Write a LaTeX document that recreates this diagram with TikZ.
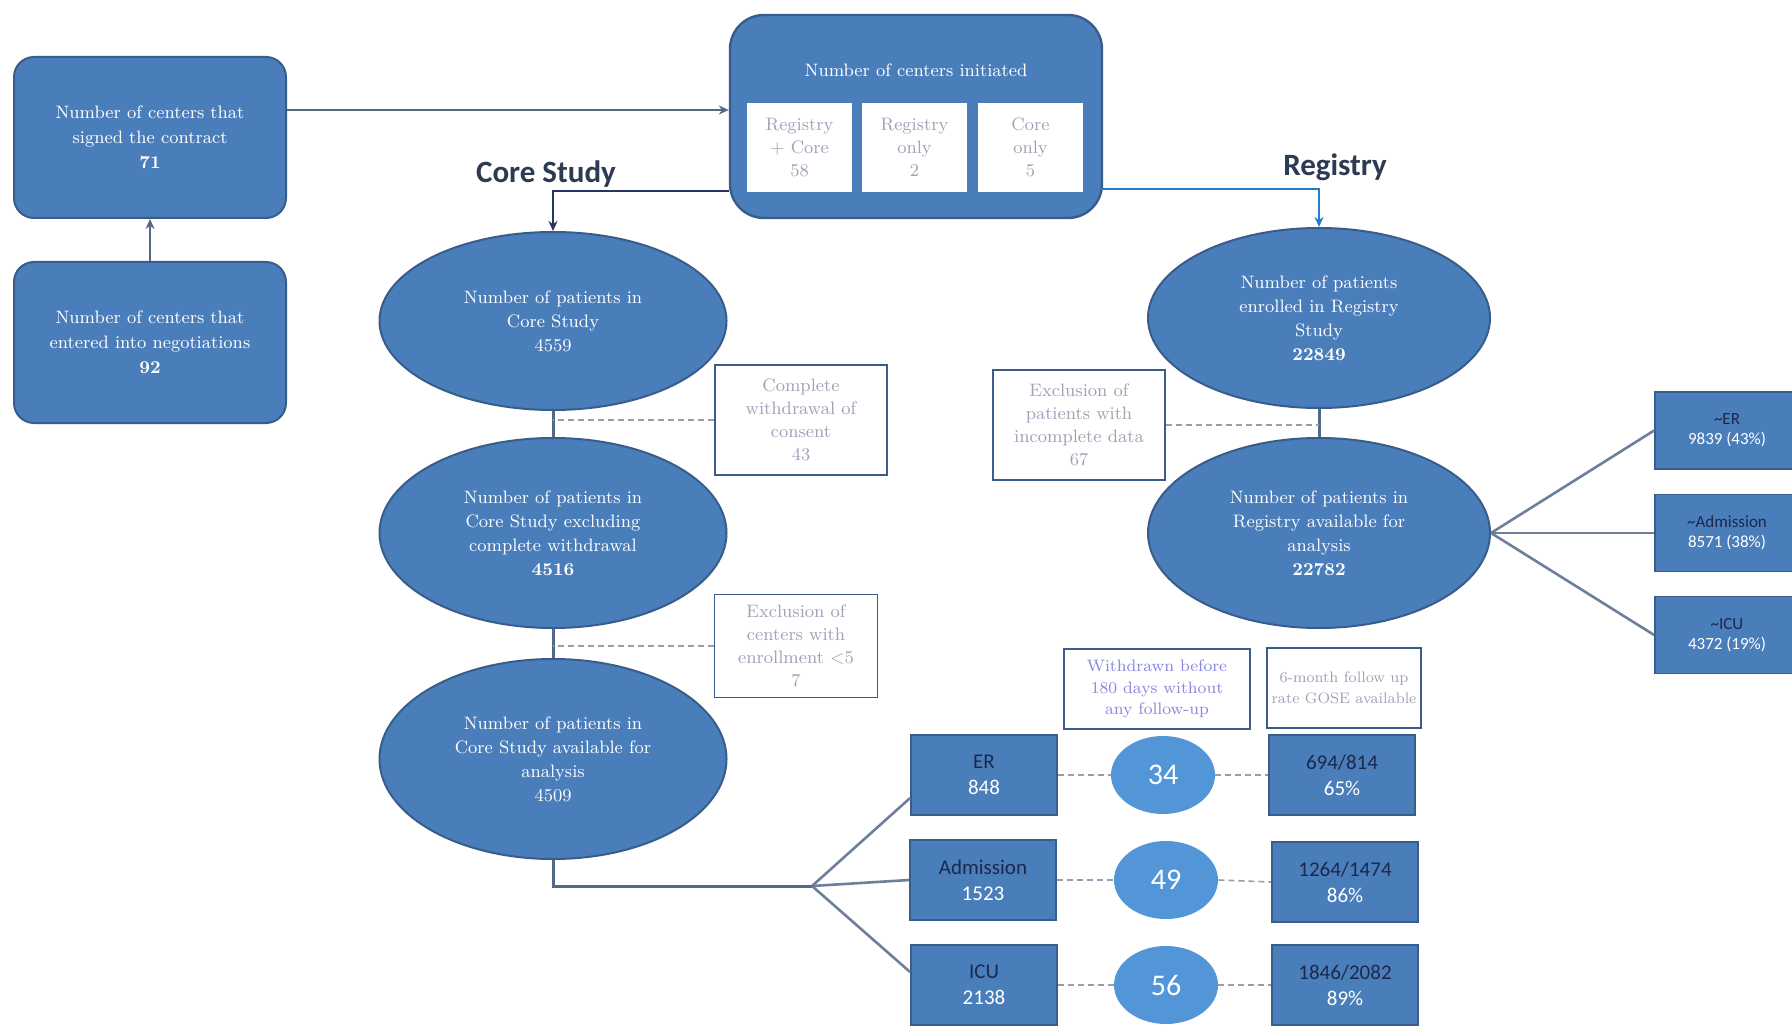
\documentclass[tikz,border=0pt]{standalone}
\usepackage{fontspec}
\newfontfamily\calfont{Carlito}
\usetikzlibrary{arrows.meta, shapes.geometric}

\definecolor{boxblue}{RGB}{74,126,187}
\definecolor{boxedge}{RGB}{56,93,138}
\definecolor{circblue}{RGB}{82,150,216}
\definecolor{linegray}{RGB}{84,104,136}
\definecolor{navytext}{RGB}{28,40,76}
\definecolor{greytext}{RGB}{158,162,182}
\definecolor{lavtext}{RGB}{136,136,222}
\definecolor{headtext}{RGB}{44,58,82}
\definecolor{regline}{RGB}{38,124,204}
\definecolor{dashgray}{RGB}{150,158,176}

\begin{document}
\begin{tikzpicture}[
  x=0.5pt, y=-0.5pt,
  >=Stealth,
  centerbox/.style = {draw=boxedge, line width=1pt, fill=boxblue,
                      rounded corners=10pt, text=white, align=center,
                      font=\fontsize{9}{12.5}\selectfont, inner sep=0pt,
                      minimum width=136pt, minimum height=80.5pt},
  initbox/.style   = {draw=boxedge, line width=1.2pt, fill=boxblue,
                      rounded corners=17pt, inner sep=0pt,
                      minimum width=186pt, minimum height=101.5pt},
  sitebox/.style   = {fill=white, text=greytext, align=center,
                      font=\fontsize{9}{11.5}\selectfont, inner sep=0pt,
                      minimum width=52.5pt, minimum height=44.5pt},
  patell/.style    = {ellipse, draw=boxedge, line width=1pt, fill=boxblue,
                      text=white, align=center, inner sep=0pt,
                      font=\fontsize{9}{12}\selectfont},
  exclbox/.style   = {draw=boxedge, line width=0.9pt, fill=white,
                      text=greytext, align=center, inner sep=0pt,
                      font=\fontsize{9}{11.5}\selectfont},
  grpbox/.style    = {draw=boxedge, line width=0.9pt, fill=boxblue,
                      align=center, inner sep=0pt,
                      font=\calfont\fontsize{10.5}{13}\selectfont,
                      minimum width=73pt, minimum height=40pt},
  regbox/.style    = {draw=boxedge, line width=0.9pt, fill=boxblue,
                      align=center, inner sep=0pt,
                      font=\calfont\fontsize{8.5}{10}\selectfont,
                      minimum width=72pt, minimum height=38.5pt},
  wdcirc/.style    = {ellipse, fill=circblue, text=white, inner sep=0pt,
                      font=\calfont\fontsize{15}{18}\selectfont,
                      minimum width=52pt, minimum height=39pt},
  headlbl/.style   = {text=headtext, inner sep=0pt,
                      font=\calfont\bfseries\fontsize{15.5}{18}\selectfont},
  arr/.style       = {-{Stealth[length=5pt,width=4.5pt]}, draw=linegray,
                      line width=1pt},
  corearr/.style   = {-{Stealth[length=5pt,width=4.5pt]}, draw=headtext!90!blue,
                      line width=1.4pt},
  regarr/.style    = {-{Stealth[length=5pt,width=4.5pt]}, draw=regline,
                      line width=1.4pt},
  conn/.style      = {draw=linegray, line width=1.5pt},
  fanline/.style   = {draw=linegray!85, line width=1.3pt},
  dashline/.style  = {draw=dashgray, line width=0.8pt,
                      dash pattern=on 3pt off 2pt},
]

\fill[white] (0,0) rectangle (1792,1026);
\useasboundingbox (0,0) rectangle (1792,1026);

% centers
\node[centerbox] (signed) at (150,137.5)
  {Number of centers that\\signed the contract\\\textbf{71}};
\node[centerbox] (negot) at (150,342.5)
  {Number of centers that\\entered into negotiations\\\textbf{92}};

\node[initbox] (init) at (916,116.5) {};
\node[text=white, font=\fontsize{9}{11}\selectfont] (inittitle) at (916,70)
  {Number of centers initiated};
\node[sitebox] (both)    at (799.5,147.5) {Registry\\+ Core\\58};
\node[sitebox] (regonly) at (914.5,147.5) {Registry\\only\\2};
\node[sitebox] (coreonly) at (1030.5,147.5) {Core\\only\\5};

\node[headlbl] (corelbl) at (546,174) {Core Study};
\node[headlbl] (reglbl)  at (1335,167) {Registry};

% core study column
\node[patell, minimum width=173.5pt, minimum height=89pt] (core1) at (553,321)
  {Number of patients in\\Core Study\\4559};
\node[patell, minimum width=173.5pt, minimum height=95pt] (core2) at (553,533)
  {Number of patients in\\Core Study excluding\\complete withdrawal\\\textbf{4516}};
\node[patell, minimum width=173.5pt, minimum height=100pt] (core3) at (553,759)
  {Number of patients in\\Core Study available for\\analysis\\4509};

\node[exclbox, minimum width=86pt, minimum height=55pt] (excl1) at (801,420)
  {Complete\\withdrawal of\\consent\\43};
\node[exclbox, minimum width=81.5pt, minimum height=51.5pt] (excl2) at (796,646)
  {Exclusion of\\centers with\\enrollment <5\\7};

% registry column
\node[patell, minimum width=171pt, minimum height=90pt] (reg1) at (1319,318)
  {Number of patients\\enrolled in Registry\\Study\\\textbf{22849}};
\node[patell, minimum width=171pt, minimum height=95pt] (reg2) at (1319,533)
  {Number of patients in\\Registry available for\\analysis\\\textbf{22782}};
\node[exclbox, minimum width=86pt, minimum height=55pt] (excl3) at (1079,425)
  {Exclusion of\\patients with\\incomplete data\\67};

\node[regbox] (rer)  at (1727,430.5)
  {\textcolor{navytext}{\textasciitilde ER}\\\textcolor{white}{9839 (43\%)}};
\node[regbox] (radm) at (1727,533)
  {\textcolor{navytext}{\textasciitilde Admission}\\\textcolor{white}{8571 (38\%)}};
\node[regbox] (ricu) at (1727,635)
  {\textcolor{navytext}{\textasciitilde ICU}\\\textcolor{white}{4372 (19\%)}};

% follow-up
\node[exclbox, text=lavtext, minimum width=93pt, minimum height=40pt,
      font=\fontsize{8.3}{10.8}\selectfont] (wdhead) at (1157,689)
  {Withdrawn before\\180 days without\\any follow-up};
\node[exclbox, minimum width=77pt, minimum height=40pt,
      font=\fontsize{7.6}{10.5}\selectfont] (fuhead) at (1344,688)
  {6-month follow up\\rate GOSE available};

\node[grpbox] (er)  at (984,775)
  {\textcolor{navytext}{ER}\\\textcolor{white}{848}};
\node[grpbox] (adm) at (983,880)
  {\textcolor{navytext}{Admission}\\\textcolor{white}{1523}};
\node[grpbox] (icu) at (984,985)
  {\textcolor{navytext}{ICU}\\\textcolor{white}{2138}};

\node[wdcirc] (wder)  at (1163,775) {34};
\node[wdcirc] (wdadm) at (1166,880) {49};
\node[wdcirc] (wdicu) at (1166,985) {56};

\node[grpbox] (fuer)  at (1342,775)
  {\textcolor{navytext}{694/814}\\\textcolor{white}{65\%}};
\node[grpbox] (fuadm) at (1345,882)
  {\textcolor{navytext}{1264/1474}\\\textcolor{white}{86\%}};
\node[grpbox] (fuicu) at (1345,985)
  {\textcolor{navytext}{1846/2082}\\\textcolor{white}{89\%}};

% connectors
\draw[arr] (negot) -- (signed);
\path ([yshift=13.75pt]signed.east) coordinate (sjoin);
\draw[arr] (sjoin) -- (sjoin -| init.west);

\coordinate (cbranch) at (729,191);
\coordinate (rbranch) at (1101,189);
\draw[corearr] (cbranch) -| (core1.north);
\draw[regarr]  (rbranch) -| (reg1.north);

\draw[conn] (core1) -- (core2);
\draw[conn] (core2) -- (core3);
\draw[conn] (reg1) -- (reg2);

\draw[dashline] (excl1.west) -- (excl1.west -| core1.south);
\draw[dashline] (excl2.west) -- (excl2.west -| core2.south);
\draw[dashline] (excl3.east) -- (excl3.east -| reg1.south);

\coordinate (cfan) at (812,886);
\draw[conn] (core3.south) |- (cfan);
\draw[fanline] (cfan) -- ([yshift=-11.5pt]er.west);
\draw[fanline] (cfan) -- (adm.west);
\draw[fanline] (cfan) -- ([yshift=6.5pt]icu.west);

\draw[fanline] (reg2.east) -- (rer.west);
\draw[fanline] (reg2.east) -- (radm.west);
\draw[fanline] (reg2.east) -- (ricu.west);

\draw[dashline] (er.east)    -- (wder.west);
\draw[dashline] (wder.east)  -- (fuer.west);
\draw[dashline] (adm.east)   -- (wdadm.west);
\draw[dashline] (wdadm.east) -- (fuadm.west);
\draw[dashline] (icu.east)   -- (wdicu.west);
\draw[dashline] (wdicu.east) -- (fuicu.west);

\end{tikzpicture}
\end{document}
